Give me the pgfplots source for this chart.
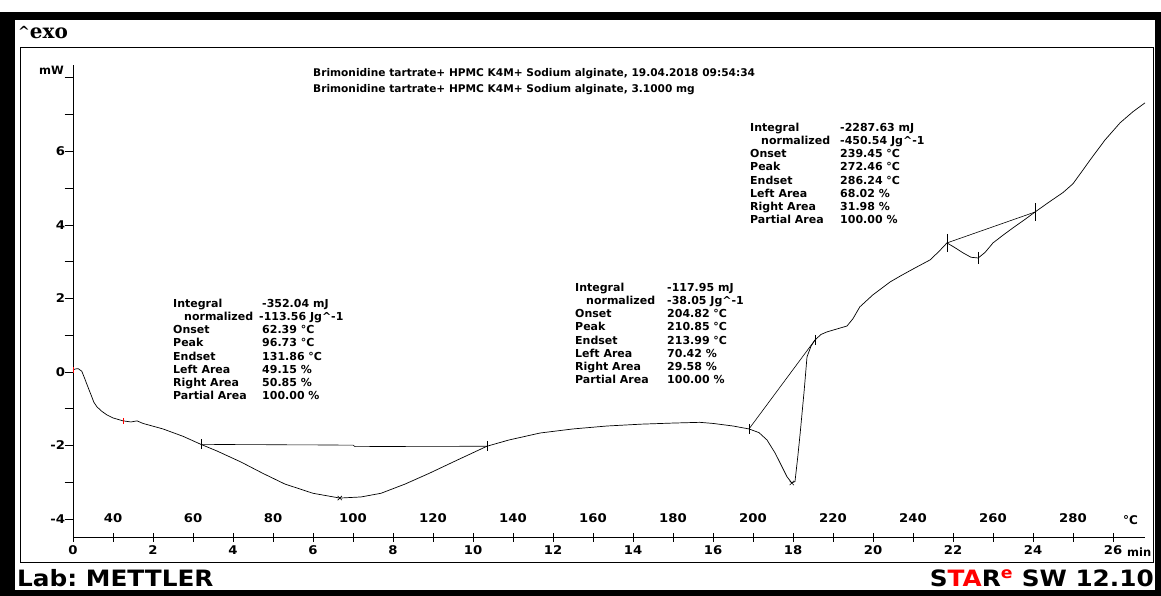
\documentclass[border=0pt]{standalone}
\usepackage{fontspec}
\setmainfont{DejaVu Sans}
\newfontfamily\serifb{DejaVu Serif}
\newfontfamily\widefont[FakeStretch=1.1]{DejaVu Sans}
\usepackage{pgfplots}
\pgfplotsset{compat=1.18}
\begin{document}
\begin{tikzpicture}[x=1pt,y=1pt]
\fill[white] (0,0) rectangle (1161,596);
\fill[black] (0,0) rectangle (1161,584);
\fill[white] (15,6) rectangle (1155,576);
\draw[line width=1pt] (20,33) rectangle (1153,548);
\node[anchor=west,inner sep=0] at (18,563) {\serifb\bfseries\fontsize{20}{22}\selectfont\raisebox{2pt}{\fontsize{14}{14}\selectfont\textasciicircum}exo};
\node[anchor=west,inner sep=0] at (17,18) {\widefont\bfseries\fontsize{22.5}{24}\selectfont Lab:\ METTLER};
\node[anchor=east,inner sep=0] at (1154,18) {\widefont\bfseries\fontsize{22.5}{24}\selectfont S\textcolor{red}{TA}R\textsuperscript{\textcolor{red}{e}} SW 12.10};
\node[anchor=base west,inner sep=0] at (313,519) {\bfseries\fontsize{10.6}{12}\selectfont Brimonidine tartrate+ HPMC K4M+ Sodium alginate, 19.04.2018 09:54:34};
\node[anchor=base west,inner sep=0] at (313,503) {\bfseries\fontsize{10.6}{12}\selectfont Brimonidine tartrate+ HPMC K4M+ Sodium alginate, 3.1000 mg};
\node[anchor=east,inner sep=0] at (64,526) {\bfseries\fontsize{11.5}{12}\selectfont mW};
\node[anchor=west,inner sep=0] at (1123,76) {\bfseries\fontsize{12}{12}\selectfont °C};
\node[anchor=west,inner sep=0] at (1127,44) {\bfseries\fontsize{11.5}{12}\selectfont min};
% annotation blocks
\node[anchor=north west,inner sep=0] at (173,298.2) {\bfseries\fontsize{11}{13.2}\selectfont
\begin{tabular}{@{}p{86pt}@{}l@{}}
Integral & \hspace{3pt}-352.04 mJ\\
\hspace{11pt}normalized & -113.56 Jg\textasciicircum-1\\
Onset & \hspace{3pt}62.39 °C\\
Peak & \hspace{3pt}96.73 °C\\
Endset & \hspace{3pt}131.86 °C\\
Left Area & \hspace{3pt}49.15 \%\\
Right Area & \hspace{3pt}50.85 \%\\
Partial Area & \hspace{3pt}100.00 \%
\end{tabular}};
\node[anchor=north west,inner sep=0] at (575,314.2) {\bfseries\fontsize{11}{13.2}\selectfont
\begin{tabular}{@{}p{92pt}@{}l@{}}
Integral & -117.95 mJ\\
\hspace{11pt}normalized & -38.05 Jg\textasciicircum-1\\
Onset & 204.82 °C\\
Peak & 210.85 °C\\
Endset & 213.99 °C\\
Left Area & 70.42 \%\\
Right Area & 29.58 \%\\
Partial Area & 100.00 \%
\end{tabular}};
\node[anchor=north west,inner sep=0] at (750,474.2) {\bfseries\fontsize{11}{13.2}\selectfont
\begin{tabular}{@{}p{90pt}@{}l@{}}
Integral & -2287.63 mJ\\
\hspace{11pt}normalized & -450.54 Jg\textasciicircum-1\\
Onset & 239.45 °C\\
Peak & 272.46 °C\\
Endset & 286.24 °C\\
Left Area & 68.02 \%\\
Right Area & 31.98 \%\\
Partial Area & 100.00 \%
\end{tabular}};
\begin{axis}[
  at={(73pt,58.6pt)}, anchor=south west, scale only axis,
  width=1072pt, height=472.4pt,
  xmin=0, xmax=26.8, ymin=-4.5, ymax=8.35, clip=false,
  axis x line=bottom, axis y line=left,
  axis line style={-, line width=0.8pt},
  /pgf/number format/assume math mode=true,
  tick label style={font=\widefont\bfseries\fontsize{12}{12}\selectfont},
  xtick={0,2,...,26},
  extra x ticks={1,3,5,7,9,11,13,15,17,19,21,23,25},
  extra x tick labels={40,60,80,100,120,140,160,180,200,220,240,260,280},
  extra x tick style={xticklabel style={yshift=32pt}},
  ytick={-4,-2,0,2,4,6},
  minor ytick={-3,-1,1,3,5,7,8},
  tick align=center, major tick length=9pt, minor tick length=9pt,
  ytick style={xshift=-4pt},
  tick style={black, line width=0.8pt},
]
\addplot[black, line width=0.7pt] coordinates {
(0.00,0.05) (0.05,0.08) (0.13,0.09) (0.22,0.02) (0.30,-0.2) (0.37,-0.4)
(0.45,-0.62) (0.52,-0.82) (0.60,-0.95) (0.72,-1.07) (0.85,-1.17) (1.0,-1.25)
(1.25,-1.33) (1.45,-1.36) (1.6,-1.33) (1.75,-1.40) (2.25,-1.55) (2.75,-1.75)
(3.2,-1.97) (3.6,-2.15) (4.2,-2.45) (4.75,-2.76) (5.3,-3.05) (6.0,-3.3)
(6.67,-3.43) (7.2,-3.40) (7.7,-3.30) (8.3,-3.05) (8.9,-2.76) (9.6,-2.40)
(10.35,-2.02) (10.9,-1.85) (11.68,-1.66) (12.5,-1.55) (13.35,-1.47) (14.2,-1.42)
(15.0,-1.39) (15.67,-1.37) (16.0,-1.40) (16.5,-1.47) (16.9,-1.55) (17.15,-1.65)
(17.35,-1.85) (17.55,-2.2) (17.68,-2.48) (17.85,-2.85) (17.97,-3.02) (18.05,-2.98)
(18.12,-2.3) (18.18,-1.66) (18.28,-0.5) (18.35,0.41) (18.45,0.7) (18.55,0.87)
(18.7,1.02) (18.85,1.09) (19.1,1.17) (19.35,1.25) (19.5,1.45) (19.67,1.77)
(20.0,2.1) (20.43,2.45) (20.7,2.62) (21.0,2.8) (21.43,3.05) (21.65,3.28)
(21.85,3.51) (22.05,3.38) (22.25,3.24) (22.45,3.12) (22.63,3.10) (22.8,3.25)
(23.0,3.51) (23.25,3.72) (23.5,3.92) (23.8,4.15) (24.05,4.35) (24.4,4.62)
(24.75,4.88) (25.0,5.12) (25.2,5.42) (25.43,5.77) (25.8,6.31) (26.18,6.78) (26.5,7.08) (26.8,7.32)
};
% integration baselines
\addplot[black, line width=0.6pt] coordinates {(3.2,-1.97) (7.0,-1.99) (7.05,-2.03) (10.35,-2.02)};
\addplot[black, line width=0.6pt] coordinates {(16.9,-1.55) (18.55,0.87)};
\addplot[black, line width=0.6pt] coordinates {(21.85,3.51) (24.05,4.35)};
% limit marks
\addplot[black, only marks, mark=|, mark size=5pt, mark options={line width=0.6pt}] coordinates {(3.2,-1.97) (10.35,-2.02) (16.9,-1.55) (18.55,0.87)};
\addplot[black, only marks, mark=|, mark size=9pt, mark options={line width=0.6pt}] coordinates {(21.85,3.51) (24.05,4.35)};
\addplot[black, only marks, mark=x, mark size=3pt, mark options={line width=0.6pt}] coordinates {(6.67,-3.43) (17.97,-3.02)};
\addplot[black, only marks, mark=|, mark size=6pt, mark options={line width=0.6pt}] coordinates {(22.63,3.10)};
\addplot[red, only marks, mark=|, mark size=3pt, mark options={line width=0.8pt}] coordinates {(0.02,0.05) (1.25,-1.33)};
\end{axis}
\end{tikzpicture}
\end{document}
